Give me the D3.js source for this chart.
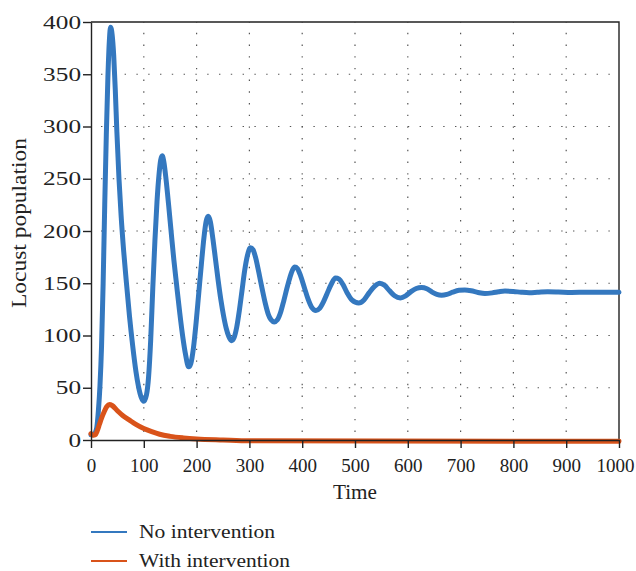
<!DOCTYPE html>
<html>
<head>
<meta charset="utf-8">
<script src="https://cdn.jsdelivr.net/npm/d3@7"></script>
<style>
  body { margin: 0; background: #fff; }
  text { font-family: "Liberation Serif", "Times New Roman", serif; fill: #222; }
</style>
</head>
<body>
<div id="chart"></div>
<script>
// values
const xTicks = [0, 100, 200, 300, 400, 500, 600, 700, 800, 900, 1000];
const yTicks = [0, 50, 100, 150, 200, 250, 300, 350, 400];

const noTime = [0, 4, 8, 11, 14, 17, 20, 23, 26, 29, 32, 35, 37, 40, 43, 46, 49, 53, 57, 62, 67, 73, 79, 85, 90, 95, 100,
  105, 109, 113, 117, 121, 125, 129, 132, 135, 138, 142, 147, 152, 157, 162, 168, 174, 179, 185,
  189, 194, 199, 204, 209, 214, 218, 222, 226, 231, 236, 241, 246, 251, 256, 261, 266,
  271, 276, 281, 286, 291, 296, 302, 307, 312, 318, 324, 330, 336, 341, 347,
  353, 359, 365, 371, 377, 382, 386, 391, 397, 404, 411, 418, 426, 433, 440, 447, 455, 463, 470, 477, 485, 494, 507,
  517, 527, 537, 547, 556, 565, 575, 586, 596, 606, 616, 626, 636, 646, 655, 664, 674, 685, 697, 708, 720, 733, 746,
  760, 772, 784, 800, 815, 830, 845, 865, 885, 910, 940, 970, 1000];
const noValue = [5, 5, 7, 12, 28, 52, 90, 150, 225, 292, 347, 384, 395, 388, 368, 335, 295, 250, 215, 180, 151, 118, 90, 66, 51, 41, 37,
  43, 60, 95, 145, 190, 228, 255, 268, 272, 266, 250, 225, 198, 172, 149, 122, 98, 82, 70,
  73, 88, 112, 140, 168, 194, 209, 214, 209, 192, 172, 152, 134, 119, 107, 99, 95,
  98, 108, 124, 143, 162, 176, 184, 182, 174, 160, 145, 131, 120, 115, 113,
  115, 122, 133, 145, 156, 163, 165.5, 164, 157, 146, 135, 127, 124, 126, 132, 140, 149, 155, 154, 149, 141, 134, 131,
  134, 141, 147, 150, 148, 143, 138, 136, 138, 142, 145, 146, 144.8, 141.5, 139.3, 138.5, 139.3, 141.5, 143.2, 143.5, 142.8, 141.2, 140.2,
  140.8, 141.8, 142.5, 142.1, 141.4, 141, 141.3, 141.8, 141.6, 141.2, 141.5, 141.4, 141.3];

const withTime = [0, 4, 8, 12, 16, 20, 25, 30, 35, 40, 50, 60, 73, 85, 100, 115, 130, 150, 175, 200, 250, 300, 1000];
const withValue = [6, 4.5, 5, 9, 15, 21, 27, 32, 34, 33, 28, 23.5, 19, 15, 11, 8, 5.5, 3.5, 2, 1, 0, -0.8, -1.2];

const seriesNames = ["No intervention", "With intervention"];
const colors = ["#3478bf", "#d9531a"];

const width = 636, height = 571;
const margin = { top: 22, right: 17, bottom: 131, left: 91 };
const plotW = width - margin.left - margin.right;
const plotH = height - margin.top - margin.bottom;

const svg = d3.select("#chart").append("svg")
  .attr("width", width)
  .attr("height", height);

const g = svg.append("g").attr("transform", `translate(${margin.left},${margin.top})`);

const x = d3.scaleLinear().domain([0, 1000]).range([0, plotW]);
const y = d3.scaleLinear().domain([0, 400]).range([plotH, 0]);

// dotted grid
g.append("g").selectAll("line").data(xTicks.slice(1, -1)).join("line")
  .attr("x1", d => x(d)).attr("x2", d => x(d))
  .attr("y1", plotH).attr("y2", 0)
  .attr("stroke", "#555").attr("stroke-width", 1.2)
  .attr("stroke-dasharray", "1.4,10.3").attr("stroke-dashoffset", -8);
g.append("g").selectAll("line").data(yTicks.slice(1, -1)).join("line")
  .attr("x1", 0).attr("x2", plotW)
  .attr("y1", d => y(d)).attr("y2", d => y(d))
  .attr("stroke", "#555").attr("stroke-width", 1.2)
  .attr("stroke-dasharray", "1.4,10.4").attr("stroke-dashoffset", -10);

// box top and right
g.append("path")
  .attr("d", `M0,0H${plotW}V${plotH}`)
  .attr("fill", "none").attr("stroke", "#222").attr("stroke-width", 1.4);

const line = d3.line().curve(d3.curveMonotoneX)
  .x(d => x(d[0])).y(d => y(d[1]));

const series = [
  d3.zip(noTime, noValue),
  d3.zip(withTime, withValue)
];

g.selectAll(".series").data(series).join("path")
  .attr("class", "series")
  .attr("d", line)
  .attr("fill", "none")
  .attr("stroke", (d, i) => colors[i])
  .attr("stroke-width", 5)
  .attr("stroke-linecap", "round")
  .attr("stroke-linejoin", "round");

// axes
const xAxis = g.append("g")
  .attr("transform", `translate(0,${plotH})`)
  .call(d3.axisBottom(x).tickValues(xTicks).tickFormat(d3.format("d"))
    .tickSize(8).tickPadding(11).tickSizeOuter(0));
const yAxis = g.append("g")
  .call(d3.axisLeft(y).tickValues(yTicks).tickFormat(d3.format("d"))
    .tickSize(8).tickPadding(9).tickSizeOuter(0));

[xAxis, yAxis].forEach(a => {
  a.select(".domain").attr("stroke", "#222").attr("stroke-width", 1.4);
  a.selectAll(".tick line").attr("stroke", "#222").attr("stroke-width", 1.4);
  a.selectAll("text")
    .style("font-family", "'Liberation Serif', serif")
    .attr("font-size", 19).attr("fill", "#222");
});
// y labels in the reference are drawn wider
yAxis.selectAll("text").attr("transform", "scale(1.33,1)").attr("x", -10 / 1.33);
// last x label sits against the right edge
xAxis.selectAll(".tick text").filter(d => d === 1000)
  .attr("text-anchor", "end").attr("x", 15);

// axis titles
svg.append("text")
  .attr("x", margin.left + plotW / 2)
  .attr("y", 499)
  .attr("text-anchor", "middle")
  .attr("font-size", 20)
  .attr("textLength", 44).attr("lengthAdjust", "spacingAndGlyphs")
  .text("Time");

svg.append("text")
  .attr("transform", "translate(26,223) rotate(-90)")
  .attr("text-anchor", "middle")
  .attr("font-size", 20)
  .attr("textLength", 170).attr("lengthAdjust", "spacingAndGlyphs")
  .text("Locust population");

// legend
const legendWidths = [136, 151];
const legend = svg.append("g");
seriesNames.forEach((name, i) => {
  const ly = 532 + i * 29;
  legend.append("line")
    .attr("x1", 91).attr("x2", 127)
    .attr("y1", ly).attr("y2", ly)
    .attr("stroke", colors[i]).attr("stroke-width", 2);
  legend.append("text")
    .attr("x", 139).attr("y", ly + 6)
    .attr("font-size", 19)
    .attr("textLength", legendWidths[i]).attr("lengthAdjust", "spacingAndGlyphs")
    .text(name);
});
</script>
</body>
</html>
